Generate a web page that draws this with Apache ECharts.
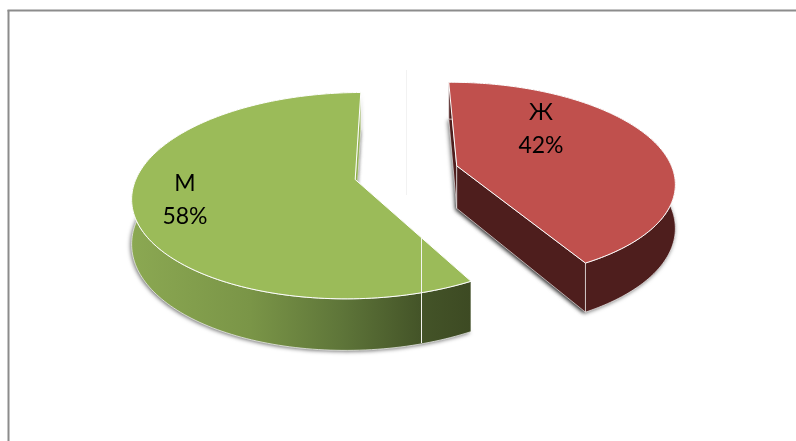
<!DOCTYPE html>
<html><head><meta charset="utf-8">
<style>html,body{margin:0;padding:0;background:#fff}#c{width:796px;height:441px}</style>
<script src="https://cdn.jsdelivr.net/npm/echarts@6/dist/echarts.min.js"></script>
</head><body><div id="c"></div>
<script>
const categories = ['Ж', 'М'];
const seriesValues = [42, 58];
const topColors = ['#C0504D', '#9BBB59'];
const labelAnchors = [[541, 129], [185, 200]];

const total = seriesValues.reduce((a, b) => a + b, 0);
const START_DEG = -0.4, CX = 406.5, CY = 172.6, R = 217, RY = 98.5, K = 0.155, EXPLODE = 0.242, EXPLODE_Y = 1.12, DROP = 43;
const rad = d => d * Math.PI / 180;
function proj(X, Y, drop) {
  const w = 1 - K * Y;
  return [CX + R * X / w, CY + (RY * Y + drop) / w];
}
function sideFill(i) {
  if (i === 0) return '#4E1E1D';
  return new echarts.graphic.LinearGradient(0, 0, 1, 0, [
    { offset: 0, color: '#8BA852' },
    { offset: 0.35, color: '#7A9547' },
    { offset: 0.62, color: '#5E7539' },
    { offset: 0.85, color: '#445428' },
    { offset: 1, color: '#3D4A23' }
  ]);
}
function renderItem(params, api) {
  const i = params.dataIndex;
  const v = api.value(1);
  let before = 0;
  for (let j = 0; j < i; j++) before += seriesValues[j];
  const a0 = START_DEG + before / total * 360;
  const a1 = a0 + v / total * 360;
  const mid = rad((a0 + a1) / 2);
  const ox = EXPLODE * Math.sin(mid), oy = -EXPLODE * EXPLODE_Y * Math.cos(mid);
  const pt = (deg, r, drop) => proj(ox + r * Math.sin(rad(deg)), oy - r * Math.cos(rad(deg)), drop);
  const rimTop = [], rimBot = [];
  const n = 160;
  for (let s = 0; s <= n; s++) {
    const d = a0 + (a1 - a0) * s / n;
    rimTop.push(pt(d, 1, 0));
    rimBot.push(pt(d, 1, DROP));
  }
  const apexT = pt(a0, 0, 0), apexB = pt(a0, 0, DROP);
  const shadow = { shadowBlur: 4, shadowColor: 'rgba(0,0,0,0.6)', shadowOffsetX: -1, shadowOffsetY: 1 };
  const inner = i === 0 ? '#4E1E1D' : '#93B054';
  const face = pts => ({ type: 'polygon', shape: { points: pts },
    style: { fill: inner, stroke: 'rgba(255,255,255,0.75)', lineWidth: 0.8 } });
  const children = [
    { type: 'polygon', shape: { points: [apexB].concat(rimBot) }, style: Object.assign({ fill: '#808080' }, shadow) },
    { type: 'polygon', shape: { points: [apexT, apexB, rimBot[n], rimTop[n]] }, style: Object.assign({ fill: '#808080' }, shadow) },
    face([apexT, apexB, rimBot[0], rimTop[0]]),
    { type: 'polygon', shape: { points: rimBot.concat(rimTop.slice().reverse()) },
      style: { fill: sideFill(i), stroke: 'rgba(255,255,255,0.85)', lineWidth: 0.8 } },
    face([apexT, apexB, rimBot[n], rimTop[n]]),
    { type: 'polygon', shape: { points: [apexT].concat(rimTop) },
      style: { fill: topColors[i], stroke: '#fff', lineWidth: 1 } },
    { type: 'text', x: labelAnchors[i][0], y: labelAnchors[i][1],
      style: { text: categories[i] + '\n' + Math.round(v / total * 100) + '%', fill: '#000',
        font: '23px Lato, "Open Sans", sans-serif', lineHeight: 33, align: 'center', verticalAlign: 'middle' } }
  ];
  return { type: 'group', children };
}
const chart = echarts.init(document.getElementById('c'), null, { renderer: 'canvas' });
chart.setOption({
  animation: false,
  backgroundColor: '#fff',
  graphic: [
    { type: 'line', z: 0, shape: { x1: 8.5, y1: 10, x2: 8.5, y2: 441 }, style: { stroke: '#8C8C8C', lineWidth: 2 } },
    { type: 'line', z: 0, shape: { x1: 7.5, y1: 10.5, x2: 796, y2: 10.5 }, style: { stroke: '#8C8C8C', lineWidth: 2 } },
    { type: 'line', z: 0, shape: { x1: 406.5, y1: 70, x2: 406.5, y2: 195 }, style: { stroke: '#F2F2F2', lineWidth: 1 } },
    { type: 'line', z: 100, shape: { x1: 421.5, y1: 238, x2: 421.5, y2: 343 }, style: { stroke: '#F4F4F0', lineWidth: 1 } }
  ],
  series: [{
    type: 'custom',
    coordinateSystem: 'none',
    renderItem,
    data: categories.map((name, i) => ({ name, value: [i, seriesValues[i]] }))
  }]
});
</script></body></html>
